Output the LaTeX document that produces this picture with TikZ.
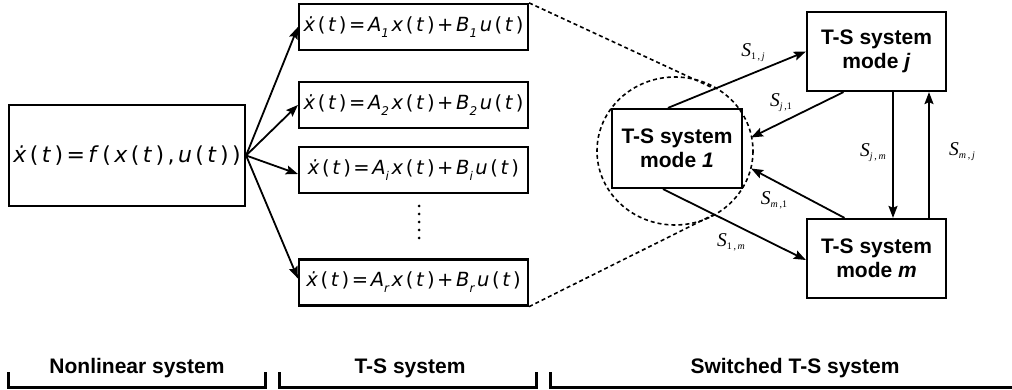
\documentclass[tikz,border=0pt]{standalone}
\usepackage{fontspec}
\setmainfont{Liberation Sans}
\newfontfamily\eqf{DejaVu Sans}
\newfontfamily\serf{Liberation Serif}
\usetikzlibrary{arrows.meta,calc}
\newcommand\gapa{\kern2.6pt}
\newcommand\gapb{\kern3.4pt}
\newcommand\Sb[1]{\raisebox{-0.3em}{\fontsize{12}{12}\selectfont\itshape #1}}
\newcommand\TSeq[1]{{\fontsize{19.5}{19.5}\selectfont\eqf\textit{ẋ}\gapa(\gapa\textit{t}\gapa)\gapa=\gapa\textit{A}\Sb{#1}\gapa\textit{x}\gapa(\gapa\textit{t}\gapa)\gapa+\gapa\textit{B}\Sb{#1}\gapa\textit{u}\gapa(\gapa\textit{t}\gapa)}}
\newcommand\NLeq{{\fontsize{22}{22}\selectfont\eqf\textit{ẋ}\gapb(\gapb\textit{t}\gapb)\gapb=\gapb\textit{f}\gapb(\gapb\textit{x}\gapb(\gapb\textit{t}\gapb)\gapb,\gapb\textit{u}\gapb(\gapb\textit{t}\gapb)\gapb)}}
\newcommand\Slab[1]{{\fontsize{19.5}{19.5}\selectfont\serf\itshape S}\raisebox{-0.3em}{\fontsize{10}{10}\selectfont\serf #1}}
\tikzset{
  box/.style={draw,line width=2.2pt,inner sep=0pt},
  eqbox/.style={box,minimum width=229pt,minimum height=46pt},
  modebox/.style={box,minimum width=139pt,minimum height=79pt,align=center,font=\fontsize{21}{24}\selectfont\bfseries},
  arr/.style={line width=1.8pt,-{Stealth[length=12pt,width=9pt,inset=2pt]}},
  lab/.style={inner sep=0pt},
  dsh/.style={line width=1.6pt,dash pattern=on 4pt off 3pt},
  brk/.style={line width=3pt},
  btxt/.style={font=\fontsize{21}{21}\selectfont\bfseries,anchor=base,inner sep=0pt}
}
\begin{document}
\begin{tikzpicture}[x=1pt,y=-1pt]
\useasboundingbox (0,0) rectangle (1012,390);
% nonlinear
\node[box,minimum width=236pt,minimum height=101pt] (nl) at (127,155.5) {\NLeq};
% T-S equations
\node[eqbox] (e1) at (413.5,27) {\TSeq{1}};
\node[eqbox] (e2) at (413.5,105) {\TSeq{2}};
\node[eqbox] (ei) at (413.5,170) {\TSeq{i}};
\node[eqbox] (er) at (413.5,282.5) {\TSeq{r}};
\coordinate (d1) at (419,206);
\coordinate (d2) at (419,240);
\draw[line width=3pt,line cap=round,dash pattern=on 0pt off 8pt] (d1) -- (d2);
\draw[arr] (nl.east) -- (e1.west);
\draw[arr] (nl.east) -- (e2.west);
\draw[arr] (nl.east) -- ($(ei.west)+(0,4)$);
\draw[arr] (nl.east) -- ($(er.west)+(0,-4)$);
% switched
\node[modebox,minimum width=130pt] (m1) at (677,148.5) {T-S system\\mode \textit{1}};
\node[modebox] (mj) at (876.5,51.5) {T-S system\\mode \textit{j}};
\node[modebox] (mm) at (876.5,258.5) {T-S system\\mode \textit{m}};
\draw[dsh] (675,151) ellipse [x radius=78, y radius=74];
\coordinate (t1) at (713,88);
\coordinate (t2) at (713,215);
\draw[dsh] (e1.north east) -- (t1);
\draw[dsh] (er.south east) -- (t2);
\draw[arr] ($(m1.north)+(-9,0)$) -- (mj.west);
\draw[arr] ($(mj.south)+(-33,0)$) -- ($(m1.east)+(8,-11)$);
\draw[arr] ($(mm.north)+(-32,0)$) -- ($(m1.east)+(8,20)$);
\draw[arr] ($(m1.south)+(-14,0)$) -- ($(mm.west)+(0,1.5)$);
\draw[arr] ($(mj.south)+(16.5,0)$) -- ($(mm.north)+(16.5,0)$);
\draw[arr] ($(mm.north)+(52.5,0)$) -- ($(mj.south)+(52.5,0)$);
\node[lab] (l1j) at (753,53) {\Slab{1\,,\,\textit{j}}};
\node[lab] (lj1) at (781,103) {\Slab{\textit{j}\,,1}};
\node[lab] (ljm) at (873,153) {\Slab{\textit{j}\,,\,\textit{m}}};
\node[lab] (lmj) at (962,152) {\Slab{\textit{m}\,,\,\textit{j}}};
\node[lab] (lm1) at (774,200) {\Slab{\textit{m}\,,1}};
\node[lab] (l1m) at (731,242) {\Slab{1\,,\,\textit{m}}};
% bottom brackets
\draw[brk] (8,372) |- (265,387) -- (265,372);
\draw[brk] (279,372) |- (536,387) -- (536,372);
\draw[brk] (550,372) |- (1012,387);
\node[btxt] (b1) at (137,373) {Nonlinear system};
\node[btxt] (b2) at (410,373) {T-S system};
\node[btxt] (b3) at (795,373) {Switched T-S system};
\end{tikzpicture}
\end{document}
